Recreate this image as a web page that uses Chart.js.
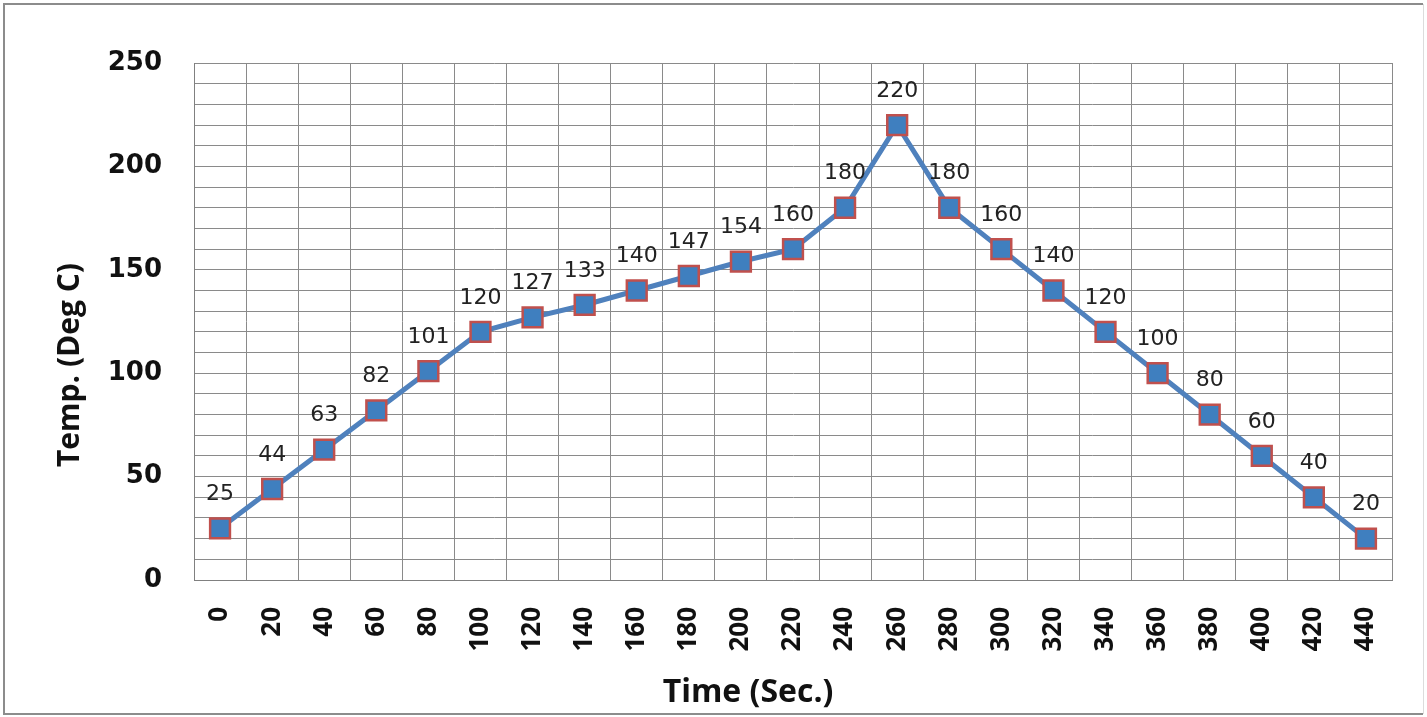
<!DOCTYPE html>
<html>
<head>
<meta charset="utf-8">
<script src="https://cdn.jsdelivr.net/npm/chart.js@4.4.1/dist/chart.umd.min.js"></script>
<style>
html,body{margin:0;padding:0;background:#fff;}
#wrap{width:1427px;height:717px;position:relative;}
</style>
</head>
<body>
<div id="wrap"><canvas id="c" width="1427" height="717"></canvas></div>
<script>
const timeLabels = ['0','20','40','60','80','100','120','140','160','180','200','220','240','260','280','300','320','340','360','380','400','420','440'];
const tempValues = [25,44,63,82,101,120,127,133,140,147,154,160,180,220,180,160,140,120,100,80,60,40,20];
const yTickLabels = [0,50,100,150,200,250];
const xTitle = 'Time (Sec.)';
const yTitle = 'Temp. (Deg C)';

const framePlugin = {
  id: 'frame',
  beforeDraw(chart) {
    const ctx = chart.ctx;
    ctx.save();
    ctx.fillStyle = '#fff';
    ctx.fillRect(0, 0, chart.width, chart.height);
    ctx.strokeStyle = '#8c8c8c';
    ctx.lineWidth = 2;
    ctx.beginPath();
    ctx.moveTo(1423, 4); ctx.lineTo(4, 4); ctx.lineTo(4, 714); ctx.lineTo(1423, 714);
    ctx.stroke();
    ctx.strokeStyle = '#dcdcdc';
    ctx.lineWidth = 1;
    ctx.beginPath();
    ctx.moveTo(1423.5, 4); ctx.lineTo(1423.5, 714);
    ctx.stroke();
    ctx.restore();
  },
  afterDraw(chart) {
    const ctx = chart.ctx;
    ctx.save();
    ctx.fillStyle = '#111';
    ctx.font = 'bold 32px "Open Sans"';
    ctx.textAlign = 'center';
    ctx.textBaseline = 'middle';
    ctx.fillText(xTitle, 748, 693);
    ctx.translate(70, 365);
    ctx.rotate(-Math.PI / 2);
    ctx.font = 'bold 30px "Open Sans"';
    ctx.fillText(yTitle, 0, 0);
    ctx.restore();
  }
};

const labelPlugin = {
  id: 'valueLabels',
  afterDatasetsDraw(chart) {
    const ctx = chart.ctx;
    const meta = chart.getDatasetMeta(0);
    ctx.save();
    ctx.fillStyle = '#222';
    ctx.font = '22px "DejaVu Sans"';
    ctx.textAlign = 'center';
    ctx.textBaseline = 'middle';
    meta.data.forEach((pt, i) => {
      ctx.fillText(String(tempValues[i]), pt.x, pt.y - 34);
    });
    ctx.restore();
  }
};

new Chart(document.getElementById('c'), {
  type: 'line',
  data: {
    labels: timeLabels,
    datasets: [{
      data: tempValues,
      borderColor: '#4F81BD',
      borderWidth: 5,
      tension: 0,
      pointStyle: 'rect',
      pointRadius: 14,
      pointHoverRadius: 14,
      pointBackgroundColor: '#3f7fbf',
      pointBorderColor: '#C0504D',
      pointBorderWidth: 2.5
    }]
  },
  options: {
    responsive: false,
    animation: false,
    events: [],
    layout: { padding: { left: 0, top: 63, right: 35, bottom: 0 } },
    plugins: { legend: { display: false }, tooltip: { enabled: false } },
    scales: {
      x: {
        type: 'category',
        offset: true,
        grid: { offset: true, color: '#8a8a8a', lineWidth: 1, drawTicks: false },
        border: { color: '#808080', width: 1 },
        ticks: {
          autoSkip: false,
          maxRotation: 90,
          minRotation: 90,
          padding: 27,
          color: '#111',
          font: { family: '"Open Sans"', weight: 'bold', size: 26 }
        },
        afterFit(scale) { scale.height = 137; }
      },
      y: {
        min: 0,
        max: 250,
        grid: { color: '#8a8a8a', lineWidth: 1, drawTicks: false },
        border: { color: '#808080', width: 1 },
        ticks: {
          stepSize: 10,
          autoSkip: false,
          padding: 32,
          color: '#111',
          font: { family: '"DejaVu Sans"', weight: 'bold', size: 26 },
          callback(v) { return yTickLabels.includes(v) ? String(v) : ''; }
        },
        afterFit(scale) { scale.width = 194; }
      }
    }
  },
  plugins: [framePlugin, labelPlugin]
});
</script>
</body>
</html>
